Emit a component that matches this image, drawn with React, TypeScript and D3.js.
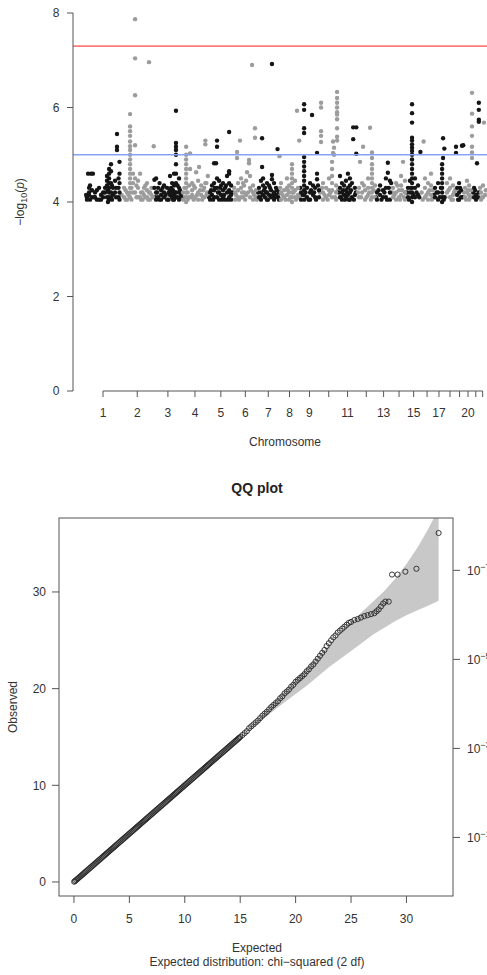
import React from "react";
import * as d3 from "d3";

// ---------- Manhattan data ----------
const chrLengths = [249, 243, 198, 191, 181, 171, 159, 146, 141, 136, 135, 134, 115, 107, 103, 90, 81, 78, 59, 63, 48, 51];
const chrTickLabels = ["1", "2", "3", "4", "5", "6", "7", "8", "9", "", "11", "", "13", "", "15", "", "17", "", "", "20", "", ""];
const manhattanYTicks = [0, 2, 4, 6, 8];
const suggestiveLine = 5;
const genomewideLine = 7.3;

// per chromosome: [position (Mb), -log10(p) values...]
const snpLoci: number[][][] = [
  [[9, 4.1, 4.05], [17, 4.6], [24, 4.2, 4.3, 4.15], [38, 4.6], [45, 4.25, 4.1], [52, 4.6], [67, 4.1, 4.2], [96, 4.3, 4.05], [110, 4.15, 4.05], [139, 4.3, 4.2], [153, 4.55, 4.45, 4.35, 4.1], [168, 4.7, 4.6, 4.5, 4.4, 4.3, 4.2, 4.1, 4.05], [182, 4.8, 4.65, 4.4, 4.2, 4.1], [196, 4.3, 4.15], [211, 4.45, 4.2], [225, 5.44, 5.17, 5.1], [236, 4.5, 4.3, 4.1], [243, 4.85, 4.6, 4.4, 4.2, 4.05]],
  [[27, 4.1, 4.3], [48, 4.05, 4.2], [70, 5.86, 5.6, 5.5, 5.4, 5.28, 5.18, 5.1, 5.0, 4.9, 4.8, 4.7, 4.6, 4.5, 4.4, 4.3, 4.2, 4.1], [91, 4.6, 4.4, 4.2], [106, 7.87, 7.04, 6.26, 5.2, 4.5, 4.2], [127, 4.45, 4.3, 4.1], [142, 4.6, 4.1], [149, 4.2, 4.05], [170, 4.15, 4.3], [192, 4.1, 4.25, 4.4], [206, 6.96, 4.2], [213, 4.05, 4.2], [235, 4.1, 4.3], [240, 5.18]],
  [[2, 4.47, 4.3], [14, 4.5, 4.2, 4.05], [28, 4.3, 4.1], [50, 4.25, 4.15, 4.05], [71, 4.35, 4.2, 4.1], [93, 4.3, 4.05], [114, 4.55, 4.25, 4.15], [129, 4.4, 4.2, 4.1], [143, 4.6, 4.35, 4.15, 4.05], [157, 5.93, 5.25, 5.17, 5.1, 5.0, 4.8, 4.6, 4.4, 4.2, 4.1], [179, 4.5, 4.3, 4.2, 4.05], [193, 4.15, 4.1]],
  [[10, 4.2, 4.05], [32, 5.17, 5.0, 4.9, 4.8, 4.7, 4.6, 4.5, 4.4, 4.3, 4.2, 4.1, 4.0], [53, 4.35, 4.1], [60, 5.03, 4.7], [75, 4.25, 4.4, 4.15], [96, 4.3, 4.1], [104, 4.63], [118, 4.45, 4.2, 4.05], [125, 4.74], [140, 4.35, 4.15], [154, 4.25, 4.1], [170, 5.3, 5.22, 4.4], [178, 4.4, 4.15], [188, 4.55]],
  [[13, 4.2, 4.05], [27, 4.35, 4.15], [42, 4.82, 4.4, 4.25, 4.1], [56, 4.82], [63, 5.3, 5.17, 4.5, 4.3, 4.1], [78, 4.45, 4.2, 4.05], [92, 4.35, 4.15], [106, 4.4, 4.25, 4.1], [121, 4.3, 4.05], [135, 4.55, 4.2], [150, 5.48, 4.65, 4.6, 4.4, 4.25, 4.1], [164, 4.35, 4.15, 4.05], [174, 4.2]],
  [[12, 4.2, 4.05], [26, 5.06, 4.93], [33, 4.4, 4.25, 4.1], [47, 5.3], [55, 4.5, 4.3, 4.1], [76, 4.35, 4.2], [91, 4.45, 4.15], [98, 4.63], [112, 4.89, 4.82], [119, 4.55, 4.3, 4.1], [134, 6.9], [141, 4.35, 4.2, 4.05], [155, 5.56, 5.36], [162, 4.25, 4.1]],
  [[13, 4.3, 4.1], [27, 4.45, 4.2, 4.05], [35, 5.35, 4.74], [42, 4.5, 4.35, 4.15], [56, 4.3, 4.1], [70, 4.4, 4.2, 4.05], [85, 4.35, 4.15], [99, 4.25, 4.1], [106, 6.92, 4.57, 4.48], [121, 4.4, 4.2, 4.05], [135, 4.3, 4.15], [146, 5.12], [157, 4.2, 4.05]],
  [[1, 4.97], [12, 4.4, 4.2, 4.05], [34, 4.25, 4.1], [55, 4.5, 4.3, 4.15], [70, 4.35, 4.2, 4.05], [91, 4.8, 4.7, 4.6, 4.5, 4.4, 4.3, 4.2, 4.1, 4.0], [113, 4.45, 4.25, 4.1], [127, 5.93], [134, 4.3, 4.15], [143, 5.3]],
  [[10, 4.2, 4.05], [32, 6.07, 5.95, 5.56, 5.46, 4.95, 4.85, 4.75, 4.65, 4.55, 4.45, 4.35, 4.25, 4.15, 4.05], [53, 4.3, 4.1], [75, 4.4, 4.2, 4.05], [89, 5.84], [96, 4.35, 4.15], [111, 4.3, 4.1], [125, 5.04, 4.6, 4.48], [139, 4.25, 4.1]],
  [[13, 6.1, 6.0, 5.5, 5.4, 5.27], [27, 4.4, 4.2, 4.05], [49, 4.3, 4.1], [70, 4.5, 4.25, 4.15], [92, 4.85, 4.7, 4.55, 4.4, 4.25, 4.1], [99, 5.28, 5.04], [106, 5.15, 5.0], [121, 4.35, 4.2, 4.05], [128, 6.33, 6.2, 6.1, 6.0, 5.9, 5.85, 5.75, 5.56, 5.38, 5.3]],
  [[13, 4.55, 4.3, 4.1], [27, 4.4, 4.2, 4.05], [42, 4.35, 4.15], [56, 4.45, 4.25, 4.1], [70, 4.6, 4.3, 4.15], [84, 4.5, 4.35, 4.2, 4.05], [99, 4.4, 4.1], [108, 5.58, 5.33], [120, 4.3, 4.15], [130, 5.58, 5.02]],
  [[15, 4.3, 4.1], [22, 4.85], [37, 4.4, 4.2], [44, 5.17], [58, 4.25, 4.05], [80, 4.5, 4.3, 4.15], [94, 5.57], [108, 5.05, 4.93, 4.8, 4.7, 4.6, 4.5, 4.4, 4.3, 4.2, 4.1], [130, 4.35, 4.1]],
  [[10, 4.2, 4.05], [32, 4.35, 4.15], [53, 4.25, 4.1], [74, 4.5, 4.3, 4.1], [88, 4.83, 4.62], [103, 4.45, 4.2, 4.05], [112, 4.4]],
  [[10, 4.3, 4.1], [32, 4.4, 4.2, 4.05], [53, 4.25, 4.1], [68, 4.55, 4.35, 4.15], [82, 4.85], [96, 4.45, 4.2, 4.05]],
  [[11, 4.3, 4.1], [25, 4.45, 4.2], [40, 6.07, 5.88, 5.68, 5.36, 5.3, 5.22, 5.15, 5.08, 5.0, 4.9, 4.8, 4.7, 4.6, 4.5, 4.4, 4.3, 4.2, 4.1, 4.0], [61, 4.5, 4.3, 4.1], [83, 4.35, 4.15], [100, 5.06]],
  [[20, 5.28], [30, 4.5, 4.3, 4.1], [52, 4.4, 4.2, 4.05], [73, 4.6, 4.35, 4.15], [86, 4.25, 4.1]],
  [[12, 4.3, 4.1], [34, 4.4, 4.2, 4.05], [63, 4.8, 4.7, 4.6, 4.5, 4.4, 4.3, 4.2, 4.1, 4.0], [70, 5.35, 4.93], [75, 4.05], [79, 5.13, 4.1]],
  [[17, 4.4, 4.2], [39, 4.5, 4.3, 4.1], [60, 4.35, 4.15, 4.05], [75, 4.25]],
  [[4, 5.17, 5.04], [12, 4.3, 4.15], [26, 4.4, 4.2, 4.05], [40, 4.25, 4.1], [47, 5.19], [56, 5.2]],
  [[10, 4.3, 4.1], [24, 4.45, 4.2], [39, 4.35, 4.15, 4.05], [53, 4.25, 4.1], [60, 6.31, 5.87, 5.6, 5.4, 5.17, 5.05, 4.93]],
  [[12, 4.3, 4.1], [26, 4.15, 4.05], [33, 4.82], [46, 6.1, 5.95, 5.74, 5.7, 4.2]],
  [[14, 4.2, 4.05], [28, 4.35, 4.1], [35, 5.68], [42, 4.15]],
];

// extra low-signal loci filling the dense band near the 1e-4 cut-off
const lowSnpLoci: number[][][] = [
  [[3, 4.15], [31, 4.05, 4.35], [60, 4.1], [80, 4.25, 4.05], [125, 4.1, 4.2], [160, 4.0, 4.25], [189, 4.05, 4.35], [218, 4.1, 4.3]],
  [[10, 4.15], [38, 4.25, 4.05], [58, 4.15], [80, 4.05, 4.3], [116, 4.1, 4.35], [160, 4.05, 4.2], [180, 4.35, 4.1], [200, 4.05], [224, 4.15, 4.3]],
  [[7, 4.1], [21, 4.2], [39, 4.4, 4.05], [61, 4.3], [83, 4.15], [104, 4.2, 4.05], [122, 4.3], [136, 4.05, 4.25], [150, 4.2], [168, 4.35, 4.1], [186, 4.25]],
  [[20, 4.1, 4.3], [43, 4.2, 4.05], [67, 4.1], [86, 4.35, 4.05], [110, 4.15], [132, 4.25], [147, 4.05], [162, 4.3, 4.1], [183, 4.2]],
  [[6, 4.1], [20, 4.25], [35, 4.05], [49, 4.3], [70, 4.2], [85, 4.3], [99, 4.05], [114, 4.15], [128, 4.35], [143, 4.05], [157, 4.2]],
  [[5, 4.3], [19, 4.15], [40, 4.05], [62, 4.2], [69, 4.4, 4.1], [84, 4.05], [105, 4.2], [126, 4.25], [148, 4.15], [168, 4.05]],
  [[6, 4.2], [20, 4.1], [49, 4.25], [63, 4.2], [77, 4.05], [92, 4.3], [113, 4.15], [128, 4.1], [142, 4.25], [151, 4.1]],
  [[6, 4.3], [23, 4.15], [45, 4.05], [62, 4.25], [80, 4.1], [102, 4.2], [120, 4.05], [140, 4.1]],
  [[4, 4.3], [21, 4.15], [42, 4.2], [64, 4.05], [82, 4.25], [104, 4.2], [118, 4.05], [132, 4.35]],
  [[5, 4.2], [20, 4.3], [38, 4.15], [60, 4.05], [81, 4.2], [113, 4.1], [134, 4.25]],
  [[6, 4.2], [20, 4.1], [35, 4.25], [49, 4.05], [63, 4.2], [77, 4.05], [92, 4.25], [113, 4.05], [127, 4.2]],
  [[7, 4.2], [29, 4.1], [50, 4.35], [69, 4.1], [88, 4.2], [100, 4.05], [120, 4.25]],
  [[4, 4.1], [21, 4.25], [42, 4.05], [63, 4.2], [82, 4.05], [95, 4.3]],
  [[4, 4.2], [21, 4.15], [42, 4.35], [60, 4.05], [75, 4.25], [89, 4.1], [104, 4.2]],
  [[4, 4.2], [18, 4.05], [32, 4.3], [50, 4.15], [72, 4.2], [92, 4.1]],
  [[6, 4.2], [14, 4.05], [41, 4.15], [62, 4.25], [80, 4.05]],
  [[4, 4.15], [23, 4.2], [45, 4.1], [54, 4.3]],
  [[6, 4.1], [28, 4.25], [50, 4.05], [68, 4.2]],
  [[19, 4.05], [33, 4.3], [51, 4.1]],
  [[3, 4.2], [17, 4.05], [31, 4.25], [46, 4.1]],
  [[5, 4.2], [19, 4.25], [40, 4.1]],
  [[7, 4.3], [21, 4.1], [48, 4.25]],
];

// ---------- QQ data ----------
const qqXTicks = [0, 5, 10, 15, 20, 25, 30];
const qqYTicks = [0, 10, 20, 30];
const qqPExponents = [1, 3, 5, 7];
const qqPoints: number[][] = [
  [0.02, 0.03], [0.1, 0.1], [0.2, 0.2], [0.3, 0.3], [0.4, 0.4], [0.5, 0.5], [0.6, 0.6], [0.7, 0.7], [0.8, 0.8], [0.9, 0.9],
  [1, 1], [1.1, 1.1], [1.2, 1.2], [1.3, 1.3], [1.4, 1.4], [1.5, 1.5], [1.6, 1.6], [1.7, 1.7], [1.8, 1.8], [1.9, 1.9],
  [2, 2], [2.1, 2.1], [2.2, 2.2], [2.3, 2.3], [2.4, 2.4], [2.5, 2.5], [2.6, 2.6], [2.7, 2.7], [2.8, 2.8], [2.9, 2.9],
  [3, 3], [3.1, 3.1], [3.2, 3.2], [3.3, 3.3], [3.4, 3.4], [3.5, 3.5], [3.6, 3.6], [3.7, 3.7], [3.8, 3.8], [3.9, 3.9],
  [4, 4], [4.1, 4.1], [4.2, 4.2], [4.3, 4.3], [4.4, 4.4], [4.5, 4.5], [4.6, 4.6], [4.7, 4.7], [4.8, 4.8], [4.9, 4.9],
  [5, 5], [5.1, 5.1], [5.2, 5.2], [5.3, 5.3], [5.4, 5.4], [5.5, 5.5], [5.6, 5.6], [5.7, 5.7], [5.8, 5.8], [5.9, 5.9],
  [6, 6], [6.1, 6.1], [6.2, 6.2], [6.3, 6.3], [6.4, 6.4], [6.5, 6.5], [6.6, 6.6], [6.7, 6.7], [6.8, 6.8], [6.9, 6.9],
  [7, 7], [7.1, 7.1], [7.2, 7.2], [7.3, 7.3], [7.4, 7.4], [7.5, 7.5], [7.6, 7.6], [7.7, 7.7], [7.8, 7.8], [7.9, 7.9],
  [8, 8], [8.1, 8.1], [8.2, 8.2], [8.3, 8.3], [8.4, 8.4], [8.5, 8.5], [8.6, 8.6], [8.7, 8.7], [8.8, 8.8], [8.9, 8.9],
  [9, 9], [9.1, 9.1], [9.2, 9.2], [9.3, 9.3], [9.4, 9.4], [9.5, 9.5], [9.6, 9.6], [9.7, 9.7], [9.8, 9.8], [9.9, 9.9],
  [10, 10], [10.1, 10.1], [10.2, 10.2], [10.3, 10.3], [10.4, 10.4], [10.5, 10.5], [10.6, 10.6], [10.7, 10.7], [10.8, 10.8], [10.9, 10.9],
  [11, 11], [11.1, 11.1], [11.2, 11.2], [11.3, 11.3], [11.4, 11.4], [11.5, 11.5], [11.6, 11.6], [11.7, 11.7], [11.8, 11.8], [11.9, 11.9],
  [12, 12], [12.1, 12.1], [12.2, 12.2], [12.3, 12.3], [12.4, 12.4], [12.5, 12.5], [12.6, 12.6], [12.7, 12.7], [12.8, 12.8], [12.9, 12.9],
  [13, 13], [13.1, 13.1], [13.2, 13.2], [13.3, 13.3], [13.4, 13.4], [13.5, 13.5], [13.6, 13.6], [13.7, 13.7], [13.8, 13.8], [13.9, 13.9],
  [14, 14], [14.1, 14.1], [14.2, 14.2], [14.3, 14.3], [14.4, 14.4], [14.5, 14.5], [14.6, 14.6], [14.7, 14.7], [14.8, 14.8], [14.9, 14.9],
  [15, 15], [15.2, 15.2], [15.4, 15.4], [15.6, 15.6], [15.8, 15.9],
  [16, 16.1], [16.2, 16.3], [16.4, 16.5], [16.6, 16.7], [16.8, 16.95], [17, 17.2], [17.2, 17.4], [17.4, 17.6], [17.6, 17.85], [17.8, 18.1],
  [18, 18.3], [18.2, 18.5], [18.4, 18.7], [18.6, 19.0], [18.8, 19.2], [19, 19.5], [19.2, 19.7], [19.4, 19.9], [19.6, 20.2], [19.8, 20.4],
  [20, 20.7], [20.2, 20.9], [20.4, 21.1], [20.6, 21.3], [20.8, 21.5], [21, 21.8], [21.2, 22.0], [21.4, 22.3], [21.6, 22.5], [21.8, 22.8],
  [22, 23.1], [22.2, 23.4], [22.4, 23.7], [22.6, 24.0], [22.8, 24.4], [23, 24.7], [23.2, 25.0], [23.4, 25.3], [23.6, 25.5], [23.8, 25.8],
  [24, 26.0], [24.2, 26.2], [24.4, 26.4], [24.6, 26.6], [24.8, 26.8], [25, 26.9], [25.3, 27.1], [25.6, 27.2], [25.9, 27.35], [26.2, 27.5],
  [26.5, 27.6], [26.8, 27.7], [27.1, 27.8], [27.3, 28.0], [27.5, 28.2], [27.7, 28.5], [27.9, 28.8], [28.1, 29.0], [28.4, 29.0],
  [28.7, 31.8], [29.2, 31.8], [29.9, 32.1], [30.9, 32.4], [32.9, 36.1],
];
const bandExpected = [15, 17, 19, 21, 23, 25, 27, 28, 29, 30, 31, 32, 32.9];
const bandLower = [15.0, 16.8, 18.6, 20.3, 22.2, 23.9, 25.6, 26.3, 27.0, 27.6, 28.1, 28.6, 29.1];
const bandUpper = [15.0, 17.3, 19.7, 22.1, 24.5, 26.9, 29.0, 30.1, 31.4, 32.9, 34.6, 36.6, 38.6];

const FONT = "'Liberation Sans', Arial, Helvetica, sans-serif";
const AXIS = "#555";
const TEXT = "#333";

export default function App() {
  // ---- Manhattan scales ----
  const chrStarts = [0, ...Array.from(d3.cumsum(chrLengths))];
  const genomeLen = chrStarts[chrStarts.length - 1];
  const mx = d3.scaleLinear().domain([0, genomeLen]).range([85.7, 486.2]);
  const my = d3.scaleLinear().domain([0, 8]).range([391, 13]);
  const chrMid = chrLengths.map((l, i) => mx(chrStarts[i] + l / 2));

  const pts: { x: number; y: number; c: string; k: string }[] = [];
  [lowSnpLoci, snpLoci].forEach((set, si) => {
    set.forEach((loci, ci) => {
      const col = ci % 2 === 0 ? "#151515" : "#9c9c9c";
      loci.forEach((locus, li) => {
        const pos = locus[0];
        locus.slice(1).forEach((v, vi) => {
          pts.push({ x: mx(chrStarts[ci] + pos), y: my(v), c: col, k: `${si}-${ci}-${li}-${vi}` });
        });
      });
    });
  });

  // ---- QQ scales ----
  const qx = d3.scaleLinear().domain([-1.35, 34.2]).range([59, 453]);
  const qy = d3.scaleLinear().domain([-1.45, 37.65]).range([896, 518]);
  const bandPts: [number, number][] = [
    ...bandExpected.map((e, i) => [qx(e), qy(bandUpper[i])] as [number, number]),
    ...bandExpected.map((e, i) => [qx(e), qy(bandLower[i])] as [number, number]).reverse(),
  ];
  const bandPath = d3.line()(bandPts) + "Z";

  return (
    <svg width={487} height={975} style={{ position: "absolute", left: 0, top: 0, background: "#fff" }} fontFamily={FONT}>
      <defs>
        <clipPath id="qqclip">
          <rect x={59} y={518} width={394} height={378} />
        </clipPath>
      </defs>
      {/* ===== Manhattan ===== */}
      {pts.map((p) => (
        <circle key={p.k} cx={p.x} cy={p.y} r={2.2} fill={p.c} />
      ))}
      <line x1={73} x2={487} y1={my(genomewideLine)} y2={my(genomewideLine)} stroke="#ff7a7a" strokeWidth={1.6} />
      <line x1={73} x2={487} y1={my(suggestiveLine)} y2={my(suggestiveLine)} stroke="#86a2f5" strokeWidth={1.6} />
      {/* y axis */}
      <line x1={73} x2={73} y1={my(0)} y2={my(8)} stroke={AXIS} strokeWidth={1} />
      {manhattanYTicks.map((t) => (
        <g key={"my" + t}>
          <line x1={67} x2={73} y1={my(t)} y2={my(t)} stroke={AXIS} />
          <text x={59.5} y={my(t) + 4.3} textAnchor="end" fontSize={12} fill={TEXT}>{t}</text>
        </g>
      ))}
      {/* x axis */}
      <line x1={chrMid[0]} x2={chrMid[chrMid.length - 1]} y1={391} y2={391} stroke={AXIS} />
      {chrMid.map((x, i) => (
        <g key={"cx" + i}>
          <line x1={x} x2={x} y1={391} y2={397} stroke={AXIS} />
          {chrTickLabels[i] && (
            <text x={x} y={417} textAnchor="middle" fontSize={12} fill={TEXT}>{chrTickLabels[i]}</text>
          )}
        </g>
      ))}
      <text x={285} y={446} textAnchor="middle" fontSize={12} fill={TEXT}>Chromosome</text>
      <text transform="translate(24,202) rotate(-90)" textAnchor="middle" fontSize={12} fill={TEXT}>
        −log<tspan fontSize={9} dy={3}>10</tspan><tspan dy={-3}>(</tspan><tspan fontStyle="italic">p</tspan>)
      </text>

      {/* ===== QQ plot ===== */}
      <text x={257} y={493} textAnchor="middle" fontSize={14} fontWeight="bold" fill="#222">QQ plot</text>
      <path d={bandPath} fill="#c8c8c8" stroke="none" clipPath="url(#qqclip)" />
      <g clipPath="url(#qqclip)">
        {qqPoints.map((p, i) => (
          <circle key={"q" + i} cx={qx(p[0])} cy={qy(p[1])} r={2.6} fill="none" stroke="#262626" strokeWidth={0.9} />
        ))}
      </g>
      <rect x={59} y={518} width={394} height={378} fill="none" stroke={AXIS} strokeWidth={1} />
      {qqYTicks.map((t) => (
        <g key={"qy" + t}>
          <line x1={52} x2={59} y1={qy(t)} y2={qy(t)} stroke={AXIS} />
          <text x={46} y={qy(t) + 4.3} textAnchor="end" fontSize={12} fill={TEXT}>{t}</text>
        </g>
      ))}
      {qqXTicks.map((t) => (
        <g key={"qx" + t}>
          <line x1={qx(t)} x2={qx(t)} y1={896} y2={903} stroke={AXIS} />
          <text x={qx(t)} y={923} textAnchor="middle" fontSize={12} fill={TEXT}>{t}</text>
        </g>
      ))}
      {qqPExponents.map((k) => {
        const o = k * 2 * Math.LN10;
        return (
          <g key={"qp" + k}>
            <line x1={453} x2={460} y1={qy(o)} y2={qy(o)} stroke={AXIS} />
            <text x={467} y={qy(o) + 4.3} fontSize={12} fill={TEXT}>
              10<tspan fontSize={9} dy={-5}>{"−" + k}</tspan>
            </text>
          </g>
        );
      })}
      <text transform="translate(17,707) rotate(-90)" textAnchor="middle" fontSize={12} fill={TEXT}>Observed</text>
      <text x={257} y={952} textAnchor="middle" fontSize={12} fill={TEXT}>Expected</text>
      <text x={257} y={966} textAnchor="middle" fontSize={12} fill={TEXT}>Expected distribution: chi−squared (2 df)</text>
    </svg>
  );
}
